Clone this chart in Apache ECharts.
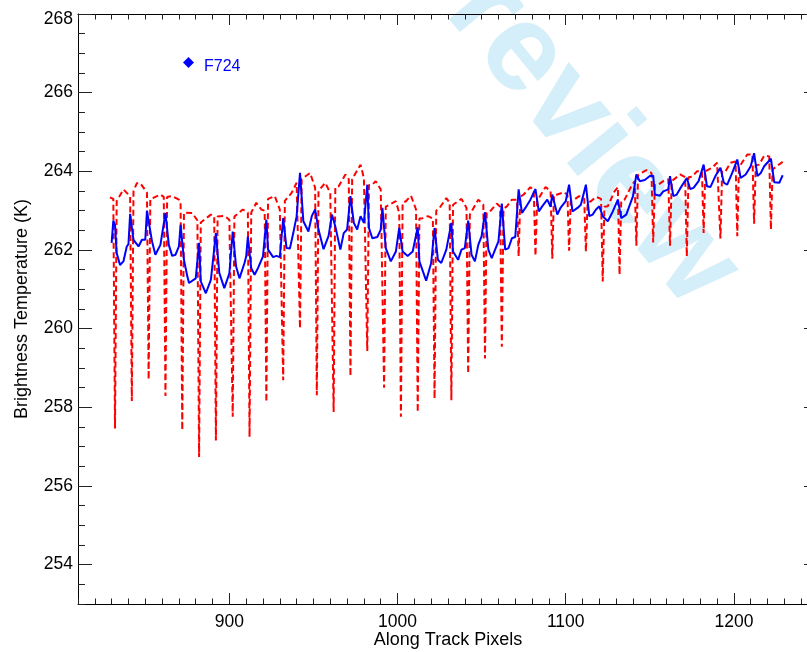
<!DOCTYPE html>
<html>
<head>
<meta charset="utf-8">
<title>Brightness Temperature along track</title>
<script src="https://cdn.jsdelivr.net/npm/echarts@6/dist/echarts.min.js"></script>
<style>
  html, body { margin: 0; padding: 0; background: #fff; }
  #chart { width: 807px; height: 652px; }
</style>
</head>
<body>
<div id="chart"></div>
<script>
// Tick labels
const xTicks = [900, 1000, 1100, 1200];
const yTicks = [254, 256, 258, 260, 262, 264, 266, 268];

// F724 brightness temperature (K) along track, [pixel, value]
const f724 = [
  [830,262.18],[831,262.75],[832,262.64],[833,261.92],[835,261.62],[837,261.71],[839,262.09],[840,262.15],
  [841,262.92],[843,262.26],[846,262.09],[848,262.26],[850,262.26],[851,263.00],[854,262.22],[856,261.88],
  [859,262.13],[860,262.17],[862,262.94],[864,262.13],[866,261.85],[868,261.88],[870,262.09],[871,262.64],
  [873,261.75],[875,261.33],[876,261.16],[880,261.28],[882,262.18],[883,261.20],[884,261.20],[886,260.90],
  [889,261.24],[892,262.43],[894,261.42],[897,261.03],[900,261.41],[902,262.47],[904,261.58],[906,261.28],
  [909,261.67],[910,261.84],[911,262.34],[913,261.54],[915,261.37],[917,261.54],[920,261.84],[922,262.77],
  [923,262.01],[926,261.82],[928,261.85],[930,261.82],[932,262.81],[934,262.05],[936,262.04],[938,262.43],
  [940,262.86],[942,263.96],[944,262.73],[947,262.47],[949,262.86],[951,263.03],[953,262.52],[956,262.02],
  [959,262.36],[961,262.90],[963,262.60],[966,262.01],[968,262.43],[970,262.52],[972,263.37],[974,262.69],
  [976,262.52],[978,262.86],[980,262.69],[982,263.66],[983,262.56],[985,262.30],[988,262.33],[990,262.52],
  [991,263.07],[993,262.05],[996,261.71],[999,261.96],[1001,262.56],[1003,261.96],[1006,261.85],[1009,261.96],
  [1012,262.58],[1013,261.71],[1017,261.22],[1020,261.67],[1022,262.56],[1024,261.75],[1026,261.67],[1029,262.01],
  [1030,262.05],[1032,262.69],[1033,261.96],[1036,261.75],[1038,262.01],[1040,262.05],[1042,262.75],[1044,261.88],
  [1046,261.71],[1048,262.13],[1050,262.35],[1052,262.96],[1054,262.01],[1056,261.79],[1058,262.01],[1060,262.22],
  [1062,263.18],[1064,262.01],[1066,262.05],[1068,262.30],[1070,262.33],[1072,263.54],[1074,262.94],[1076,263.07],
  [1079,263.28],[1082,263.55],[1084,262.98],[1086,263.11],[1089,263.28],[1091,263.10],[1092,263.41],[1095,262.90],
  [1097,263.08],[1100,263.24],[1102,263.66],[1104,262.98],[1107,263.07],[1109,263.15],[1112,263.66],[1114,262.86],
  [1116,262.90],[1118,263.03],[1120,263.11],[1122,262.86],[1125,262.73],[1128,262.98],[1131,263.28],[1133,262.81],
  [1136,262.90],[1140,263.37],[1142,263.92],[1144,263.75],[1147,263.78],[1150,263.88],[1152,263.89],[1153,263.41],
  [1156,263.38],[1158,263.49],[1161,263.54],[1162,263.88],[1164,263.37],[1166,263.41],[1168,263.56],[1172,263.83],
  [1174,263.55],[1176,263.58],[1179,263.75],[1182,264.17],[1184,263.62],[1186,263.60],[1189,263.88],[1192,264.09],
  [1194,263.71],[1196,263.66],[1199,263.96],[1202,264.30],[1204,263.83],[1207,263.92],[1210,264.13],[1212,264.46],
  [1214,263.88],[1216,263.96],[1218,264.13],[1222,264.32],[1224,263.72],[1227,263.71],[1229,263.90]
];

// Unfiltered scan with periodic cold dips, [pixel, value]
const rawScan = [
  [829,263.34],[831,263.30],[832,257.46],[833,263.24],[837,263.54],[840,263.41],[841,263.35],
  [842,258.16],[843,263.50],[845,263.70],[847,263.70],[851,263.46],
  [852,258.71],[853,263.30],[855,263.33],[859,263.41],[861,263.35],
  [862,258.29],[863,263.35],[866,263.37],[870,263.28],[871,263.20],
  [872,257.42],[873,262.95],[874,262.98],[878,262.94],[881,262.75],
  [882,256.74],[883,262.70],[884,262.73],[889,262.90],[891,262.85],
  [892,257.16],[893,262.85],[897,262.87],[900,262.77],[901,262.80],
  [902,257.76],[903,262.85],[904,262.86],[908,263.03],[911,262.95],
  [912,257.25],[913,262.95],[914,262.98],[916,263.20],[919,263.03],[921,263.00],
  [922,258.14],[923,263.30],[924,263.32],[927,263.37],[930,263.03],[931,263.00],
  [932,258.69],[933,263.25],[934,263.28],[937,263.45],[940,263.71],[941,263.75],
  [942,260.01],[943,263.80],[944,263.83],[948,263.96],[951,263.58],
  [952,258.31],[953,263.50],[954,263.54],[957,263.71],[960,263.45],[961,263.45],
  [962,257.88],[963,263.60],[965,263.62],[969,263.92],[971,263.80],
  [972,258.79],[973,263.80],[974,263.83],[978,264.17],[980,263.83],[981,263.80],
  [982,259.43],[983,263.65],[985,263.66],[987,263.75],[990,263.54],[991,263.50],
  [992,258.50],[993,263.10],[994,263.15],[999,263.24],[1001,262.94],
  [1002,257.76],[1003,263.20],[1005,263.24],[1008,263.38],[1011,263.03],
  [1012,257.88],[1013,262.80],[1015,262.81],[1018,262.86],[1021,262.80],
  [1022,258.22],[1023,263.00],[1025,263.07],[1029,263.32],[1031,263.20],
  [1032,258.18],[1033,263.15],[1034,263.20],[1038,263.30],[1041,263.07],
  [1042,258.86],[1043,262.90],[1044,262.94],[1048,263.28],[1051,263.15],
  [1052,259.24],[1053,262.95],[1055,262.98],[1059,263.18],[1061,263.10],
  [1062,259.54],[1063,263.05],[1065,263.11],[1068,263.28],[1071,263.28],
  [1072,261.84],[1073,263.35],[1075,263.41],[1079,263.60],[1081,263.50],
  [1082,261.85],[1083,263.25],[1084,263.28],[1088,263.60],[1091,263.50],
  [1092,261.78],[1093,263.40],[1095,263.41],[1099,263.47],[1101,263.40],
  [1102,261.98],[1103,263.25],[1105,263.28],[1108,263.37],[1111,263.30],
  [1112,261.96],[1113,263.20],[1115,263.24],[1118,263.35],[1121,263.30],
  [1122,261.20],[1123,263.10],[1125,263.11],[1129,263.49],[1131,263.60],
  [1132,261.37],[1133,263.25],[1135,263.28],[1139,263.62],[1141,263.75],
  [1142,262.11],[1143,263.90],[1145,263.96],[1148,264.03],[1151,263.96],
  [1152,262.19],[1153,263.65],[1155,263.66],[1158,263.75],[1161,263.80],
  [1162,262.11],[1163,263.75],[1164,263.79],[1168,263.92],[1171,263.85],
  [1172,261.84],[1173,263.85],[1175,263.86],[1178,264.00],[1181,264.00],
  [1182,262.43],[1183,264.00],[1184,264.00],[1187,264.09],[1190,264.22],[1191,264.20],
  [1192,262.29],[1193,264.00],[1195,264.00],[1198,264.22],[1201,264.25],
  [1202,262.35],[1203,264.10],[1204,264.13],[1208,264.43],[1211,264.43],
  [1212,262.67],[1213,264.15],[1215,264.17],[1218,264.40],[1221,264.38],
  [1222,262.52],[1223,264.05],[1224,264.05],[1229,264.24]
];

const FONT = '"Liberation Sans", Arial, Helvetica, sans-serif';
const X_MIN = 810, X_MAX = 1250, Y_MIN = 253, Y_MAX = 268;

function xAxisDef(position, major) {
  const ax = {
    type: 'value', position: position, min: X_MIN, max: X_MAX,
    axisLine: { show: major, lineStyle: { color: '#000', width: 1 } },
    splitLine: { show: false },
    axisTick: { show: true, inside: true, length: major ? 11 : 5.5,
                lineStyle: { color: '#222', width: 1 } },
    axisLabel: { show: false }
  };
  if (major) {
    ax.axisTick.customValues = xTicks;
    if (position === 'bottom') {
      ax.axisLabel = { show: true, customValues: xTicks, margin: 9,
                       fontSize: 17.5, color: '#000', fontFamily: FONT,
                       formatter: v => String(v) };
      ax.name = 'Along Track Pixels';
      ax.nameLocation = 'middle';
      ax.nameGap = 27;
      ax.nameMoveOverlap = false;
      ax.nameTextStyle = { fontSize: 18, color: '#000', fontFamily: FONT };
    }
  } else {
    ax.interval = 10;
  }
  return ax;
}

function yAxisDef(position, major) {
  const ax = {
    type: 'value', position: position, min: Y_MIN, max: Y_MAX,
    axisLine: { show: major, lineStyle: { color: '#000', width: 1 } },
    splitLine: { show: false },
    axisTick: { show: true, inside: true, length: major ? 14 : 7,
                lineStyle: { color: '#222', width: 1 } },
    axisLabel: { show: false }
  };
  if (major) {
    ax.axisTick.customValues = yTicks;
    if (position === 'left') {
      ax.axisLabel = {
        show: true, customValues: yTicks, margin: 5,
        fontSize: 17.5, color: '#000', fontFamily: FONT,
        formatter: v => (v === Y_MAX ? '{top|' + v + '}' : String(v)),
        rich: { top: { fontSize: 17.5, color: '#000', fontFamily: FONT, padding: [10, 0, 0, 0] } }
      };
      ax.name = 'Brightness Temperature (K)';
      ax.nameLocation = 'middle';
      ax.nameGap = 47;
      ax.nameMoveOverlap = false;
      ax.nameTextStyle = { fontSize: 18, color: '#000', fontFamily: FONT };
    }
  } else {
    ax.interval = 0.5;
  }
  return ax;
}

const chart = echarts.init(document.getElementById('chart'), null, { renderer: 'canvas' });

chart.setOption({
  animation: false,
  backgroundColor: '#fff',
  grid: { left: 78, top: 14, width: 740, height: 590, containLabel: false, outerBoundsMode: 'none' },
  graphic: [{
    type: 'text', z: 0, silent: true,
    x: 566, y: 108, rotation: -0.885,
    style: {
      text: 'Preview', x: 0, y: 0, align: 'center', verticalAlign: 'middle',
      fontSize: 124, fontWeight: 'bold', fontFamily: FONT, fill: '#d4eefa'
    }
  }],
  legend: {
    data: ['F724'], left: 178, top: 52, icon: 'diamond',
    itemWidth: 11, itemHeight: 11, itemGap: 0,
    formatter: name => '{t|' + name + '}',
    textStyle: {
      color: '#0000ff', fontSize: 16, fontFamily: FONT,
      rich: { t: { color: '#0000ff', fontSize: 16, fontFamily: FONT, padding: [8, 0, 0, 5] } }
    }
  },
  xAxis: [
    xAxisDef('bottom', true), xAxisDef('bottom', false),
    xAxisDef('top', true), xAxisDef('top', false)
  ],
  yAxis: [
    yAxisDef('left', true), yAxisDef('left', false),
    yAxisDef('right', true), yAxisDef('right', false)
  ],
  series: [
    {
      name: 'Raw scan', type: 'line', data: rawScan,
      xAxisIndex: 0, yAxisIndex: 0, showSymbol: false, symbol: 'none',
      lineStyle: { color: '#ff0000', width: 2, type: [6, 3.5] },
      itemStyle: { color: '#ff0000' }, z: 2
    },
    {
      name: 'F724', type: 'line', data: f724,
      xAxisIndex: 0, yAxisIndex: 0, showSymbol: false, symbol: 'none',
      lineStyle: { color: '#0000ff', width: 2 },
      itemStyle: { color: '#0000ff' }, z: 3
    }
  ]
});
</script>
</body>
</html>
